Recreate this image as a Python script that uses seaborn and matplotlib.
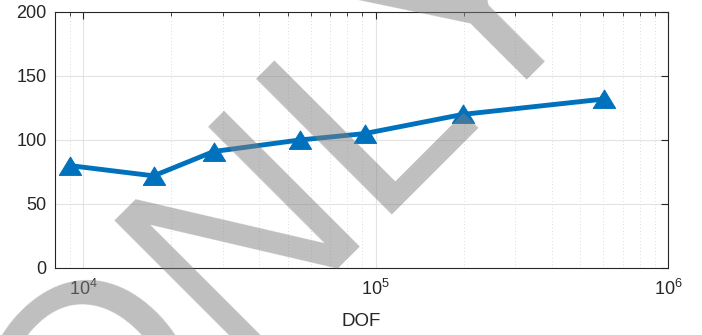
import matplotlib
matplotlib.use("Agg")
import matplotlib.pyplot as plt
import matplotlib.ticker as mticker
import numpy as np
import pandas as pd
import seaborn as sns

# Degrees of freedom and measured values
dof = [9000, 17400, 27900, 55000, 91600, 198600, 604000]
values = [80, 72, 91, 100, 105, 120, 132]

y_ticks = [0, 50, 100, 150, 200]
x_label = "DOF"

sns.set_theme(style="white")
plt.rcParams["font.family"] = ["Liberation Sans", "DejaVu Sans"]
plt.rcParams["mathtext.fontset"] = "custom"
plt.rcParams["mathtext.rm"] = "Liberation Sans"
plt.rcParams["mathtext.it"] = "Liberation Sans"
plt.rcParams["mathtext.default"] = "regular"

ink = "#262626"
blue = "#0072BD"

fig = plt.figure(figsize=(7.02, 3.35), dpi=100)
ax = fig.add_axes([55 / 702, 1 - 268 / 335, (668 - 55) / 702, (268 - 12) / 335])

# wide, flat up-pointing triangle
tri = [(-1.0, -0.8), (1.0, -0.8), (0.0, 0.85), (-1.0, -0.8)]

df = pd.DataFrame({"DOF": dof, "value": values})
sns.lineplot(data=df, x="DOF", y="value", ax=ax, color=blue, linewidth=3.5,
             marker=tri, markersize=16, markeredgecolor=blue,
             markerfacecolor=blue, zorder=5)

ax.set_xscale("log")
ax.set_xlim(8000, 1e6)
ax.set_ylim(0, 200)
ax.set_yticks(y_ticks)
ax.set_xticks([1e4, 1e5, 1e6])
ax.xaxis.set_major_formatter(mticker.LogFormatterMathtext())
ax.xaxis.set_minor_locator(mticker.LogLocator(base=10, subs=np.arange(2, 10)))
ax.xaxis.set_minor_formatter(mticker.NullFormatter())

ax.set_xlabel(x_label, fontsize=13.5, color=ink, labelpad=10)
ax.set_ylabel("")

for s in ax.spines.values():
    s.set_color(ink)
    s.set_linewidth(0.8)

ax.tick_params(axis="both", which="major", direction="in", length=5, width=0.8,
               color=ink, labelcolor=ink, labelsize=13, top=True, right=True)
ax.tick_params(axis="x", which="major", pad=8)
ax.tick_params(axis="y", which="major", pad=6)
ax.tick_params(axis="x", which="minor", direction="in", length=3, width=0.6,
               color=ink, top=True)

ax.grid(True, which="major", axis="both", color="#e3e3e3", linewidth=0.8, linestyle="-")
ax.grid(True, which="minor", axis="x", color="#d0d0d0", linewidth=0.6, linestyle=(0, (1, 3)))
ax.set_axisbelow(True)

# Diagonal watermark over the whole figure
fig.text(79 / 702, 1 - 515 / 335, "ONLY", fontsize=200, rotation=45,
         rotation_mode="anchor", ha="left", va="baseline",
         color="#808080", alpha=0.5, family="Liberation Sans", zorder=20)

fig.savefig("out.png", dpi=100)
